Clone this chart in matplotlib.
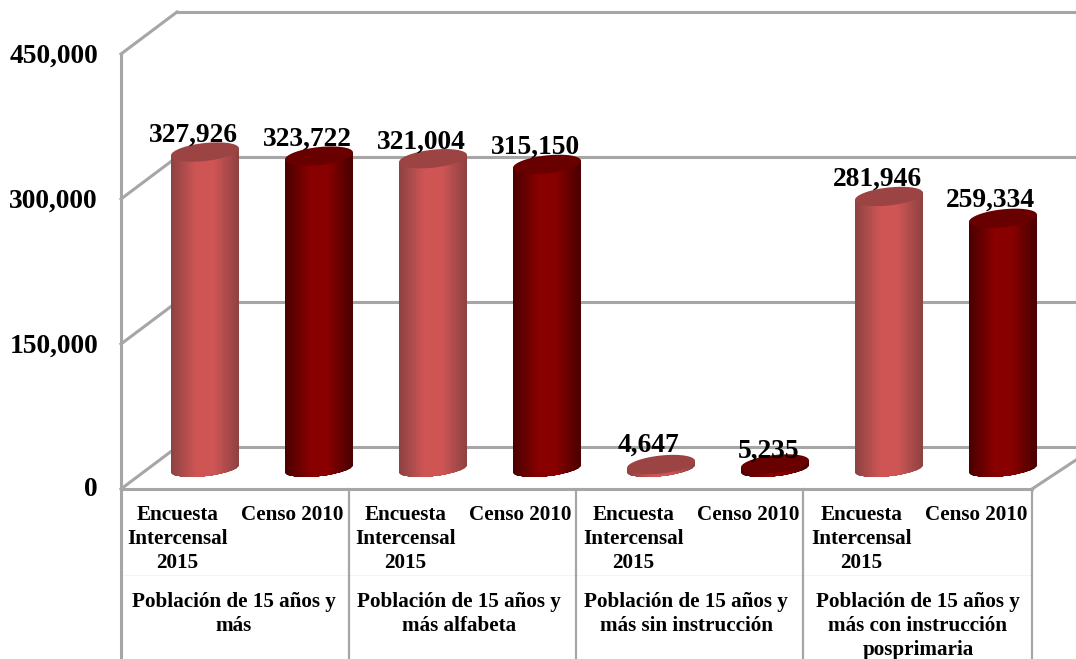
import matplotlib
matplotlib.use("Agg")
import matplotlib.pyplot as plt
from matplotlib.colors import LinearSegmentedColormap
import numpy as np

plt.rcParams['font.family'] = ['Liberation Serif', 'DejaVu Serif']

# datos
grupos = ["Población de 15 años y\nmás",
          "Población de 15 años y\nmás alfabeta",
          "Población de 15 años y\nmás sin instrucción",
          "Población de 15 años y\nmás con instrucción\nposprimaria"]
series = ["Encuesta\nIntercensal\n2015", "Censo 2010"]
encuesta = [327926, 321004, 4647, 281946]
censo = [323722, 315150, 5235, 259334]
ticks = [0, 150000, 300000, 450000]

# geometria, en pixeles de la imagen
W, H = 1076, 659
k = 145 / 150000       # pixeles por persona
y0 = 469               # pixel del valor 0 en el plano de las barras
x_front, x_back = 121, 177
x_right = 1032
d_front, d_back = 20, -22   # desplazamiento de las paredes respecto a y0
gris = '#a6a6a6'
fs_valor = 19.8
fs_cat = 15.2


def val(p):
    # pixel vertical -> valor del eje
    return (y0 - p) / k


def cilindro(ax, xc, v, cmap, color_tapa):
    a, t = 34, 3.5
    b_arriba, b_abajo = 9, 7.5
    u = np.linspace(-1, 1, 70)
    s = np.linspace(-1, 1, 71)
    arriba = v + t * s / k
    abajo = -(b_abajo * np.sqrt(1 - s ** 2) - t * s) / k
    X = np.array([xc + a * s, xc + a * s])
    Y = np.array([abajo, arriba])
    ax.pcolormesh(X, Y, (1 - np.abs(u))[None, :], cmap=cmap, vmin=0, vmax=0.75,
                  shading='flat', zorder=3, antialiased=True, linewidth=0)
    th = np.linspace(0, 2 * np.pi, 100)
    ax.fill(xc + a * np.cos(th), v + (b_arriba * np.sin(th) + t * np.cos(th)) / k,
            color=color_tapa, lw=0, zorder=4)


cmap_claro = LinearSegmentedColormap.from_list('c', ['#8f4242', '#cf5555'])
cmap_oscuro = LinearSegmentedColormap.from_list('o', ['#4a0000', '#880000'])

fig = plt.figure(figsize=(W / 100, H / 100), dpi=100)
ax = fig.add_axes([0, 0, 1, 1])
ax.axis('off')

# paredes y cuadricula
for t in ticks:
    f = val(y0 + d_front) + t
    b = val(y0 + d_back) + t
    ax.plot([x_back, W], [b, b], color=gris, lw=2.2, zorder=1)
    ax.plot([x_front, x_back], [f, b], color=gris, lw=2.2, zorder=1)
    ax.text(98, f - 1 / k if t == 0 else f - 2 / k, f"{t:,}", ha='right', va='center',
            fontsize=fs_valor, fontweight='bold', color='black', zorder=6)

suelo = val(y0 + d_front)
ax.plot([x_front, x_front], [val(H), suelo + ticks[-1]], color=gris, lw=2.2, zorder=2)
ax.plot([x_front, x_right], [suelo, suelo], color=gris, lw=2.2, zorder=2)
ax.plot([x_right, W], [suelo, val(y0 + d_front - 29)], color=gris, lw=2.2, zorder=2)
for x in [348.5, 576, 803, x_right]:
    ax.plot([x, x], [val(H), suelo], color=gris, lw=1.6, zorder=2)
ax.plot([x_front, x_right], [val(575), val(575)], color='#f4f4f4', lw=0.7, zorder=1)

# barras
x_barras = [205, 433, 661, 889]
dx_enc = [-12, -12, -13, -12]
dx_cen = [-12, -12, -6, -13]
dy_enc = [17, 17, 19, 17]
dy_cen = [17, 17, 13, 18]
for i in range(4):
    x1, x2 = x_barras[i], x_barras[i] + 114
    cilindro(ax, x1, encuesta[i], cmap_claro, '#9c4343')
    cilindro(ax, x2, censo[i], cmap_oscuro, '#690000')
    ax.annotate(f"{encuesta[i]:,}", (x1, encuesta[i]), xytext=(dx_enc[i], dy_enc[i]),
                textcoords='offset pixels', ha='center', va='center',
                fontsize=fs_valor, fontweight='bold', zorder=7)
    ax.annotate(f"{censo[i]:,}", (x2, censo[i]), xytext=(dx_cen[i], dy_cen[i]),
                textcoords='offset pixels', ha='center', va='center',
                fontsize=fs_valor, fontweight='bold', zorder=7)
    # etiquetas de categoria
    ax.text(x1 - 27.5, val(505), series[0], ha='center', va='top', fontsize=fs_cat,
            fontweight='bold', linespacing=1.27)
    ax.text(x2 - 27, val(505), series[1], ha='center', va='top', fontsize=fs_cat,
            fontweight='bold')

x_grupos = [234, 459, 686, 918]
for x, g in zip(x_grupos, grupos):
    ax.text(x, val(592), g, ha='center', va='top', fontsize=fs_cat, fontweight='bold',
            linespacing=1.25)

ax.set_xlim(0, W)
ax.set_ylim(val(H), val(0))
fig.savefig("out.png", dpi=100)
